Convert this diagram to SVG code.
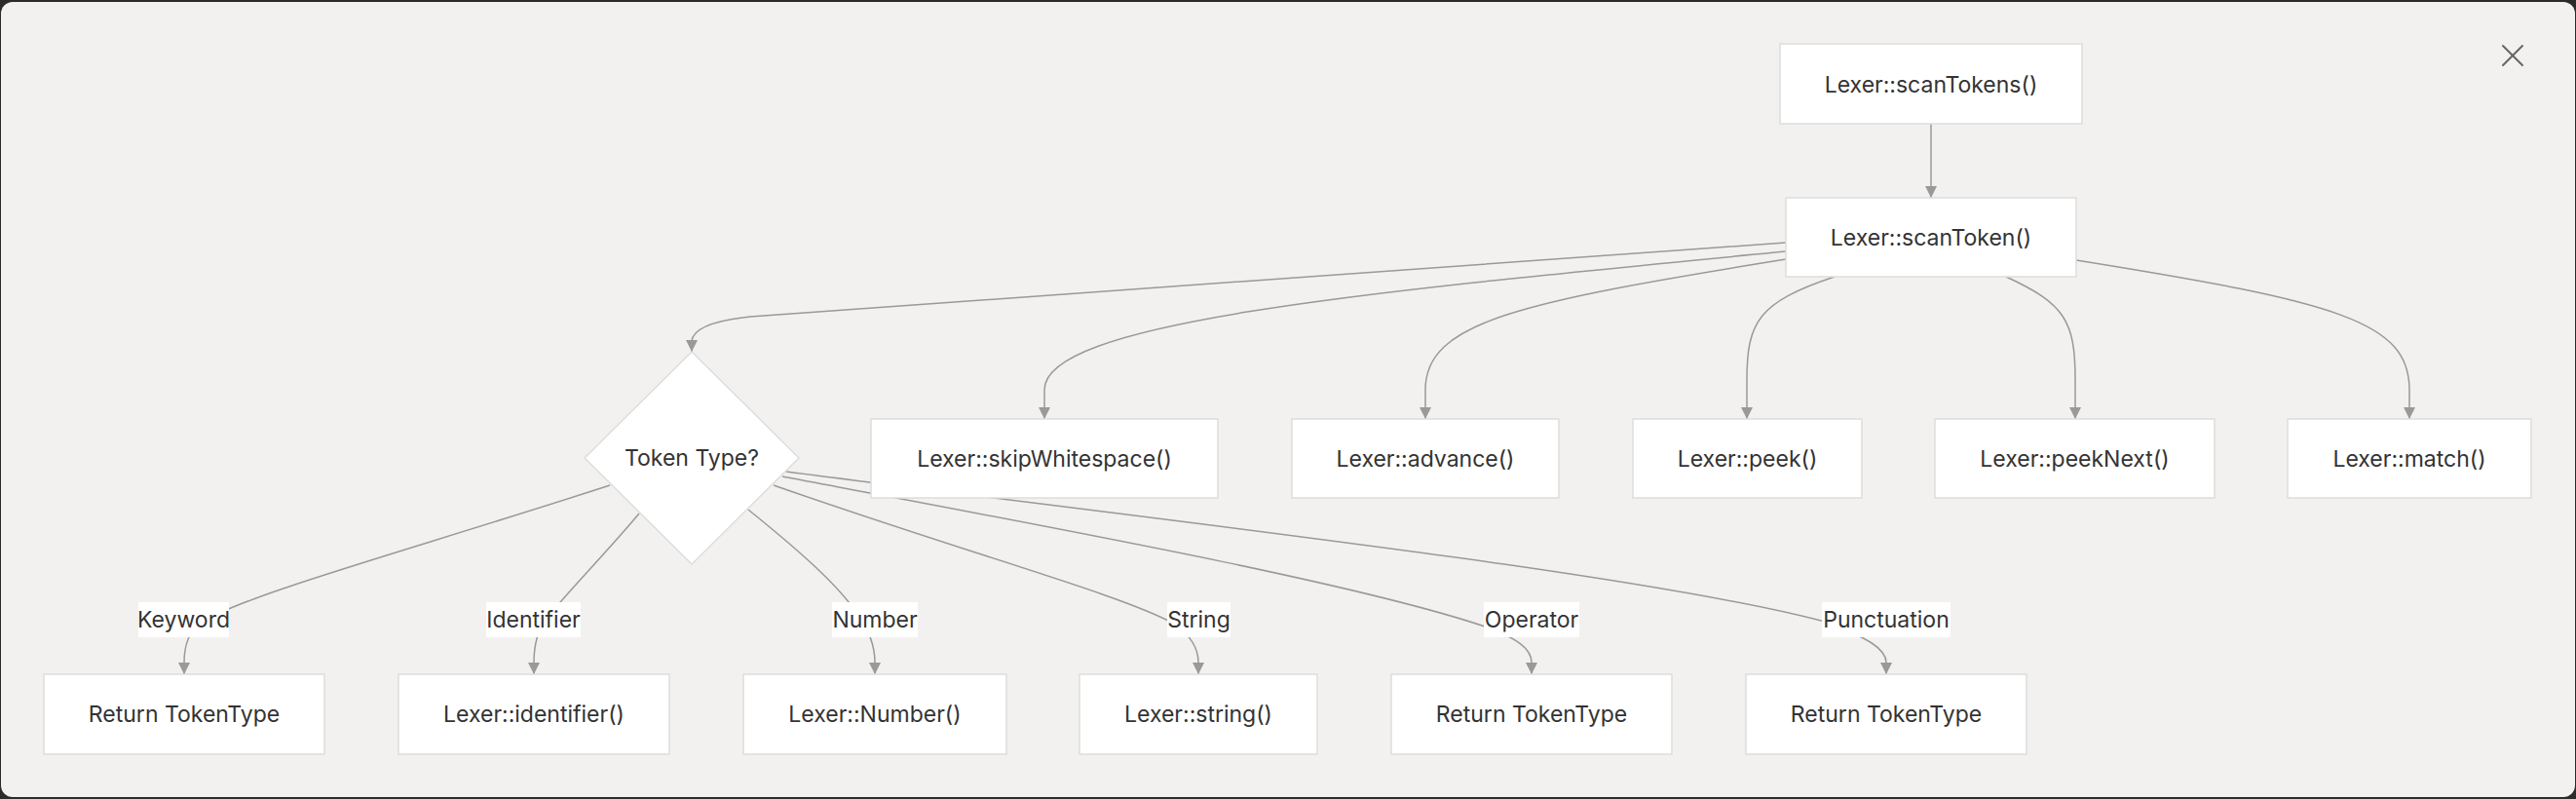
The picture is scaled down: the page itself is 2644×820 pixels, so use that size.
<svg xmlns="http://www.w3.org/2000/svg" width="2644" height="820" viewBox="0 0 2644 820">
  <defs>
    <style>
      .node rect, .node polygon { fill: #ffffff; stroke: #dddddd; stroke-width: 1.5; }
      .node text, .label text { font-family: Inter, "Noto Sans", "Liberation Sans", sans-serif; font-size: 23px; fill: #333333; text-anchor: middle; dominant-baseline: central; }
      .edge { fill: none; stroke: #999999; stroke-width: 1.5; marker-end: url(#arrow); }
      .label rect { fill: #ffffff; stroke: none; }
    </style>
    <marker id="arrow" viewBox="0 0 12 12" refX="12" refY="6" markerWidth="12" markerHeight="12" markerUnits="userSpaceOnUse" orient="auto">
      <path d="M0,0 L12,6 L0,12 z" fill="#999999"/>
    </marker>
  </defs>

  <rect x="0" y="0" width="2644" height="820" fill="#2b2b2b"/>
  <rect x="1" y="2" width="2642" height="816" rx="12" ry="12" fill="#f2f1ef"/>

  <g id="close-button" stroke="#666666" stroke-width="2" stroke-linecap="round">
    <line x1="2569" y1="47" x2="2589" y2="67"/>
    <line x1="2589" y1="47" x2="2569" y2="67"/>
  </g>

  <g id="connectors">
    <path class="edge" d="M1982,127 L1982,203"/>
    <path class="edge" d="M1833,249 L770,325 Q712,331 710,350 L710,361"/>
    <path class="edge" d="M1833,258 C1400,300 1072,330 1072,400 L1072,430"/>
    <path class="edge" d="M1833,266 C1560,310 1463,330 1463,400 L1463,430"/>
    <path class="edge" d="M1883,284 C1805,310 1793,330 1793,390 L1793,430"/>
    <path class="edge" d="M2059,284 C2120,312 2130,330 2130,390 L2130,430"/>
    <path class="edge" d="M2131,267 C2400,310 2473,330 2473,400 L2473,430"/>

    <path class="edge" d="M626,498 C420,565 250,610 205,640 C192,650 189,665 189,680 L189,692"/>
    <path class="edge" d="M656,527 C620,570 580,610 560,636 C550,650 548,665 548,680 L548,692"/>
    <path class="edge" d="M768,523 C820,565 860,600 880,630 C893,648 898,665 898,680 L898,692"/>
    <path class="edge" d="M794,498 C1000,570 1150,610 1205,640 C1222,652 1230,665 1230,680 L1230,692"/>
    <path class="edge" d="M803,489 C1100,545 1400,600 1530,645 C1555,655 1572,665 1572,680 L1572,692"/>
    <path class="edge" d="M807,484 C1200,535 1700,590 1880,640 C1915,655 1936,665 1936,680 L1936,692"/>
  </g>

  <g id="node-scanTokens" class="node">
    <rect x="1827" y="45" width="310" height="82"/>
    <text x="1982" y="87">Lexer::scanTokens()</text>
  </g>
  <g id="node-scanToken" class="node">
    <rect x="1833" y="203" width="298" height="81"/>
    <text x="1982" y="244">Lexer::scanToken()</text>
  </g>
  <g id="node-tokenType" class="node">
    <polygon points="710,361 820,470 710,579 600,470"/>
    <text x="710" y="470">Token Type?</text>
  </g>
  <g id="node-skipWhitespace" class="node">
    <rect x="894" y="430" width="356" height="81"/>
    <text x="1072" y="471">Lexer::skipWhitespace()</text>
  </g>
  <g id="node-advance" class="node">
    <rect x="1326" y="430" width="274" height="81"/>
    <text x="1463" y="471">Lexer::advance()</text>
  </g>
  <g id="node-peek" class="node">
    <rect x="1676" y="430" width="235" height="81"/>
    <text x="1793.5" y="471">Lexer::peek()</text>
  </g>
  <g id="node-peekNext" class="node">
    <rect x="1986" y="430" width="287" height="81"/>
    <text x="2129.5" y="471">Lexer::peekNext()</text>
  </g>
  <g id="node-match" class="node">
    <rect x="2348" y="430" width="250" height="81"/>
    <text x="2473" y="471">Lexer::match()</text>
  </g>

  <g id="node-returnKeyword" class="node">
    <rect x="45" y="692" width="288" height="82"/>
    <text x="189" y="733">Return TokenType</text>
  </g>
  <g id="node-identifier" class="node">
    <rect x="409" y="692" width="278" height="82"/>
    <text x="548" y="733">Lexer::identifier()</text>
  </g>
  <g id="node-number" class="node">
    <rect x="763" y="692" width="270" height="82"/>
    <text x="898" y="733">Lexer::Number()</text>
  </g>
  <g id="node-string" class="node">
    <rect x="1108" y="692" width="244" height="82"/>
    <text x="1230" y="733">Lexer::string()</text>
  </g>
  <g id="node-returnOperator" class="node">
    <rect x="1428" y="692" width="288" height="82"/>
    <text x="1572" y="733">Return TokenType</text>
  </g>
  <g id="node-returnPunctuation" class="node">
    <rect x="1792" y="692" width="288" height="82"/>
    <text x="1936" y="733">Return TokenType</text>
  </g>

  <g id="edge-labels">
    <g class="label"><rect x="142" y="618" width="93" height="36"/><text x="188.5" y="636">Keyword</text></g>
    <g class="label"><rect x="499" y="618" width="97" height="36"/><text x="547.5" y="636">Identifier</text></g>
    <g class="label"><rect x="854" y="618" width="88" height="36"/><text x="898" y="636">Number</text></g>
    <g class="label"><rect x="1198" y="618" width="65" height="36"/><text x="1230.5" y="636">String</text></g>
    <g class="label"><rect x="1523" y="618" width="98" height="36"/><text x="1572" y="636">Operator</text></g>
    <g class="label"><rect x="1870" y="618" width="132" height="36"/><text x="1936" y="636">Punctuation</text></g>
  </g>
</svg>
